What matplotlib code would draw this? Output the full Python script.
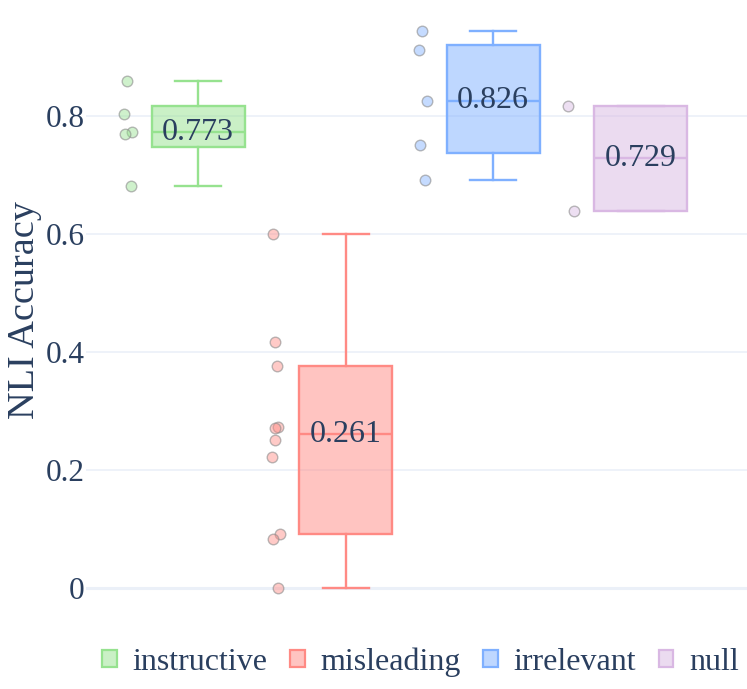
import matplotlib
matplotlib.use("Agg")
import matplotlib.pyplot as plt
from matplotlib.patches import Patch
import numpy as np

# groups and the accuracy values
groups = ["instructive", "misleading", "irrelevant", "null"]
instructive = [0.860, 0.803, 0.773, 0.770, 0.682]
misleading = [0.600, 0.418, 0.377, 0.274, 0.271, 0.251, 0.222, 0.091, 0.084, 0.000]
irrelevant = [0.944, 0.912, 0.826, 0.752, 0.692]
null = [0.818, 0.640]
values = [instructive, misleading, irrelevant, null]

edge_colors = ["#96E28F", "#FF8A84", "#7FB0FF", "#D9B8E3"]
text_color = "#2a3f5f"

# horizontal offset of the points (pixels from box centre), as in the picture
jitter_px = [
    [-71, -74, -66, -73, -67],
    [-73, -71, -69, -68, -71, -71, -74, -66, -73, -68],
    [-71, -74, -66, -73, -68],
    [-73, -67],
]
px_per_unit = 147.5

plt.rcParams["font.family"] = ["Liberation Serif", "DejaVu Serif"]

fig = plt.figure(figsize=(7.47, 6.89), dpi=100)
ax = fig.add_axes([86 / 747, 1 - 620 / 689, 1 - 86 / 747, 620 / 689])


def box_stats(vals, label):
    # plotly "linear" quartiles == numpy hazen method
    v = np.sort(np.asarray(vals))
    q1, med, q3 = np.quantile(v, [0.25, 0.5, 0.75], method="hazen")
    iqr = q3 - q1
    lo = v[v >= q1 - 1.5 * iqr].min()
    hi = v[v <= q3 + 1.5 * iqr].max()
    return dict(label=label, q1=q1, med=med, q3=q3, whislo=lo, whishi=hi, fliers=[])


positions = np.arange(len(groups))
for i, (name, vals, col) in enumerate(zip(groups, values, edge_colors)):
    st = box_stats(vals, name)
    ax.bxp([st], positions=[i], widths=0.63, patch_artist=True,
           showfliers=False,
           boxprops=dict(facecolor=matplotlib.colors.to_rgba(col, 0.5), edgecolor=col, linewidth=1.7),
           medianprops=dict(color=col, linewidth=1.7),
           whiskerprops=dict(color=col, linewidth=1.7),
           capprops=dict(color=col, linewidth=1.7),
           capwidths=0.31, zorder=3)
    xs = i + np.array(jitter_px[i]) / px_per_unit
    ax.scatter(xs, vals, s=58, facecolor=matplotlib.colors.to_rgba(col, 0.45),
               edgecolor=(0.55, 0.55, 0.55, 0.6), linewidth=1.0, zorder=4)
    ax.text(i, st["med"], f"{round(st['med'], 3):.3f}", ha="center", va="center",
            fontsize=23, color=text_color, zorder=5)

ax.set_xlim(-0.76, 3.72)
ax.set_ylim(-0.054, 0.997)
ax.set_yticks([0, 0.2, 0.4, 0.6, 0.8])
ax.set_yticklabels(["0", "0.2", "0.4", "0.6", "0.8"])
ax.set_xticks([])
ax.tick_params(axis="y", length=0, labelsize=22.5, labelcolor=text_color, pad=1)
ax.grid(axis="y", color="#EBF0F8", linewidth=1.2, zorder=0)
ax.axhline(0, color="#EBF0F8", linewidth=2.2, zorder=1)
for s in ax.spines.values():
    s.set_visible(False)
ax.set_ylabel("NLI Accuracy", fontsize=27.5, color=text_color, va="center")
ax.yaxis.set_label_coords(-0.092, 0.5)

handles = [Patch(facecolor=matplotlib.colors.to_rgba(c, 0.5), edgecolor=c, linewidth=1.6)
           for c in edge_colors]
fig.legend(handles, groups, loc="center", bbox_to_anchor=(0.563, 0.039), ncol=4,
           frameon=False, fontsize=23, handlelength=0.45, handleheight=0.45,
           handletextpad=0.5, columnspacing=0.7, labelcolor=text_color)

fig.savefig("out.png", dpi=100)
